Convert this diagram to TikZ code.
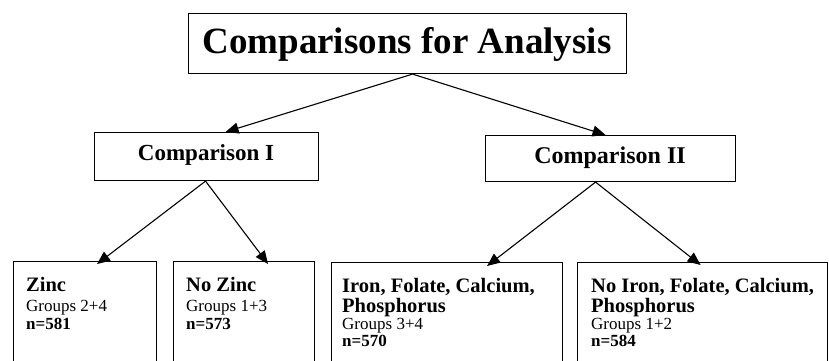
\documentclass[tikz,border=0pt]{standalone}
\usepackage{fontspec}
\setmainfont{Liberation Serif}
\usetikzlibrary{arrows.meta}
\tikzset{
  boxx/.style={draw=black, line width=1.1pt, inner sep=0pt, anchor=north west},
  conn/.style={line width=1.1pt, -{Triangle[length=13pt,width=11pt]}},
  txt/.style={inner sep=0pt, anchor=base west, align=left},
  ttl/.style={inner sep=0pt, anchor=base},
}
\newcommand{\hd}{\fontsize{20.5}{24}\selectfont\bfseries}
\newcommand{\rg}{\fontsize{17}{20}\selectfont}
\newcommand{\nb}{\fontsize{17}{20}\selectfont\bfseries}
\begin{document}
\begin{tikzpicture}[x=1pt,y=-1pt]
\useasboundingbox[fill=white] (0,0) rectangle (829,361);
% boxes
\node[boxx, minimum width=438pt, minimum height=60pt] (top) at (188,13) {};
\node[boxx, minimum width=224pt, minimum height=48pt] (c1) at (94,132) {};
\node[boxx, minimum width=250pt, minimum height=46pt] (c2) at (485,135) {};
\node[boxx, minimum width=143pt, minimum height=150pt] (zinc) at (13,261) {};
\node[boxx, minimum width=141pt, minimum height=150pt] (nozinc) at (173,261) {};
\node[boxx, minimum width=231pt, minimum height=150pt] (iron) at (331,262) {};
\node[boxx, minimum width=250pt, minimum height=150pt] (noiron) at (577,262) {};
% titles
\node[ttl] (ttop) at (407,53) {\fontsize{37}{40}\selectfont\bfseries Comparisons for Analysis};
\node[ttl] (tc1) at (206,160) {\fontsize{23}{26}\selectfont\bfseries Comparison I};
\node[ttl] (tc2) at (610,163) {\fontsize{24}{26}\selectfont\bfseries Comparison II};
% leaf texts
\node[txt] (z1) at (26,291) {\hd Zinc};
\node[txt] (z2) at (26,311) {\rg Groups 2+4};
\node[txt] (z3) at (26,329) {\nb n=581};
\node[txt] (nz1) at (186,291) {\hd No Zinc};
\node[txt] (nz2) at (186,311) {\rg Groups 1+3};
\node[txt] (nz3) at (186,329) {\nb n=573};
\node[txt] (i1) at (342,292) {\hd Iron, Folate, Calcium,};
\node[txt] (i2) at (342,312) {\hd Phosphorus};
\node[txt] (i3) at (342,329) {\rg Groups 3+4};
\node[txt] (i4) at (342,346) {\nb n=570};
\node[txt] (ni1) at (591,292) {\hd No Iron, Folate, Calcium,};
\node[txt] (ni2) at (591,312) {\hd Phosphorus};
\node[txt] (ni3) at (591,329) {\rg Groups 1+2};
\node[txt] (ni4) at (591,346) {\nb n=584};
% connectors
\coordinate (topb) at ([xshift=5pt]top.south);
\coordinate (c1b) at ([xshift=-1pt]c1.south);
\coordinate (c2b) at ([xshift=-15pt]c2.south);
\draw[conn] (topb) -- ([xshift=19pt]c1.north);
\draw[conn] (topb) -- ([xshift=-5pt]c2.north);
\draw[conn] (c1b) -- ([xshift=12pt, yshift=-3pt]zinc.north);
\draw[conn] (c1b) -- ([xshift=24pt, yshift=-3pt]nozinc.north);
\draw[conn] (c2b) -- ([xshift=40pt, yshift=-4pt]iron.north);
\draw[conn] (c2b) -- ([xshift=-2pt, yshift=-3pt]noiron.north);
\end{tikzpicture}
\end{document}
